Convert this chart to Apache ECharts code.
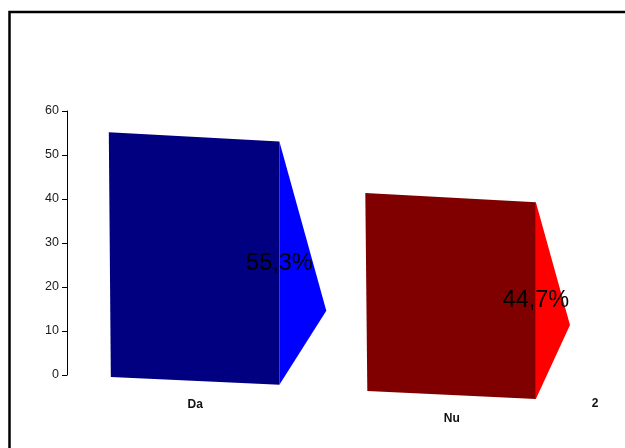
<!DOCTYPE html>
<html>
<head>
<meta charset="utf-8">
<script src="https://cdn.jsdelivr.net/npm/echarts@6/dist/echarts.min.js"></script>
<style>
  html, body { margin: 0; padding: 0; background: #ffffff; }
  #chart { width: 625px; height: 448px; }
</style>
</head>
<body>
<div id="chart"></div>
<script>
// Answer categories and their share of responses (percent)
const categories = ['Da', 'Nu'];
const shares = [55.3, 44.7];
const yTicks = [0, 10, 20, 30, 40, 50, 60];
const axisTitle = '2';

// Face colours: front and side of each block
const frontColors = ['#000080', '#800000'];
const sideColors = ['#0000ff', '#ff0000'];

const FONT = '"Liberation Sans", Arial, sans-serif';

const chart = echarts.init(document.getElementById('chart'), null, { renderer: 'canvas' });

// Slight downward drift to the right that gives the blocks their tilted look
function drift(x) {
  return 0.055 * (x - 100);
}

function formatShare(v) {
  return v.toFixed(1).replace('.', ',') + '%';
}

function renderBlock(params, api) {
  const idx = api.value(0);
  const val = api.value(1);
  const top = api.coord([idx, val]);
  const base = api.coord([idx, 0]);
  const band = api.size([1, 0])[0];
  const xL = top[0] - band * 0.337;
  const xR = top[0] + band * 0.328;

  const tl = [xL, top[1] + drift(xL)];
  const tr = [xR, top[1] + drift(xR)];
  const br = [xR, base[1] + drift(xR)];
  const bl = [xL + 2, base[1] + drift(xL) + 1.5];

  const depth = 47 - 0.05 * (xR - 278);
  const tip = [xR + depth, br[1] - 74];

  const i = params.dataIndex;
  return {
    type: 'group',
    children: [
      {
        type: 'polygon',
        shape: { points: [tr, tip, br] },
        style: { fill: sideColors[i] }
      },
      {
        type: 'polygon',
        shape: { points: [tl, tr, br, bl] },
        style: { fill: frontColors[i] }
      },
      {
        type: 'text',
        x: xR,
        y: (tr[1] + br[1]) / 2,
        style: {
          text: formatShare(val),
          fill: '#000000',
          font: '23.5px ' + FONT,
          align: 'center',
          verticalAlign: 'middle'
        }
      },
      {
        type: 'text',
        x: top[0],
        y: base[1] + drift(top[0]) + 24,
        style: {
          text: categories[idx],
          fill: '#111111',
          font: 'bold 12px ' + FONT,
          align: 'center',
          verticalAlign: 'middle'
        }
      }
    ]
  };
}

const option = {
  animation: false,
  backgroundColor: '#ffffff',
  grid: { left: 67, right: 45, top: 111, bottom: 73, containLabel: false },
  graphic: [
    {
      type: 'rect',
      shape: { x: 9.5, y: 12, width: 700, height: 500 },
      style: { fill: 'none', stroke: '#000000', lineWidth: 2.5 },
      silent: true
    },
    {
      // title of the category axis, placed past its right end
      type: 'text',
      x: 595,
      y: 404,
      style: {
        text: axisTitle,
        fill: '#111111',
        font: 'bold 12px ' + FONT,
        align: 'center',
        verticalAlign: 'middle'
      },
      silent: true
    }
  ],
  xAxis: {
    type: 'category',
    data: categories,
    axisLine: { show: false },
    axisTick: { show: false },
    axisLabel: { show: false },
    splitLine: { show: false }
  },
  yAxis: {
    type: 'value',
    min: yTicks[0],
    max: yTicks[yTicks.length - 1],
    interval: yTicks[1] - yTicks[0],
    axisLine: { show: true, lineStyle: { color: '#000000', width: 1 } },
    axisTick: { show: true, inside: false, length: 5, lineStyle: { color: '#000000' } },
    axisLabel: {
      margin: 8,
      fontFamily: FONT,
      fontSize: 12.5,
      color: '#1a1a1a'
    },
    splitLine: { show: false }
  },
  series: [
    {
      type: 'custom',
      renderItem: renderBlock,
      encode: { x: 0, y: 1 },
      data: categories.map((c, i) => [i, shares[i]])
    }
  ]
};

chart.setOption(option);
</script>
</body>
</html>
